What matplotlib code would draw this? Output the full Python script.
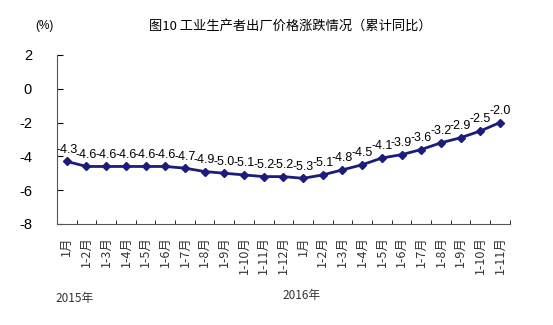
import matplotlib.pyplot as plt
import numpy as np

plt.rcParams['font.family'] = ['Liberation Sans', 'Noto Sans CJK SC', 'DejaVu Sans']

# data
months = ['1月', '1-2月', '1-3月', '1-4月', '1-5月', '1-6月', '1-7月', '1-8月',
          '1-9月', '1-10月', '1-11月', '1-12月',
          '1月', '1-2月', '1-3月', '1-4月', '1-5月', '1-6月', '1-7月', '1-8月',
          '1-9月', '1-10月', '1-11月']
values = [-4.3, -4.6, -4.6, -4.6, -4.6, -4.6, -4.7, -4.9, -5.0, -5.1, -5.2, -5.2,
          -5.3, -5.1, -4.8, -4.5, -4.1, -3.9, -3.6, -3.2, -2.9, -2.5, -2.0]
years = ['2015年', '2016年']

fig = plt.figure(figsize=(5.53, 3.25), dpi=100)
ax = fig.add_axes([0.103, 0.311, 0.819, 0.52])

x = np.arange(len(values))
ax.plot(x, values, color='#1c1c7c', lw=2, marker='D', ms=4, mec='#1c1c7c', mfc='#1c1c7c')

for xi, v in zip(x, values):
    ax.annotate(f'{v:.1f}', (xi, v), xytext=(0, 4), textcoords='offset points',
                ha='center', va='bottom', fontsize=9)

ax.set_xlim(-0.5, len(values) - 0.5)
ax.set_ylim(-8, 2)
ax.set_yticks([2, 0, -2, -4, -6, -8])
ax.set_yticklabels(['2', '0', '-2', '-4', '-6', '-8'], fontsize=10.5)

ax.set_xticks(x)
ax.set_xticklabels(months, rotation=90, fontsize=9, va='top',
                   family=['Noto Sans CJK SC'], color='#333333')
ax.set_xticks(np.arange(-0.5, len(values), 1), minor=True)
ax.tick_params(axis='x', which='major', length=0, pad=9)
ax.tick_params(axis='x', which='minor', direction='in', length=3)
ax.tick_params(axis='y', direction='in', length=4, pad=18)

for s in ['top', 'right']:
    ax.spines[s].set_visible(False)
for s in ['left', 'bottom']:
    ax.spines[s].set_color('#555555')

fig.text(0.525, 0.92, '图10 工业生产者出厂价格涨跌情况（累计同比）', ha='center', va='center',
         fontsize=9.5, family=['Noto Sans CJK SC'])
fig.text(0.08, 0.92, '(%)', ha='center', va='center', fontsize=8.5)
fig.text(0.135, 0.083, years[0], ha='center', va='center', fontsize=8.5,
         family=['Noto Sans CJK SC'], color='#333333')
fig.text(0.545, 0.09, years[1], ha='center', va='center', fontsize=8.5,
         family=['Noto Sans CJK SC'], color='#333333')

fig.savefig('out.png', dpi=100)
